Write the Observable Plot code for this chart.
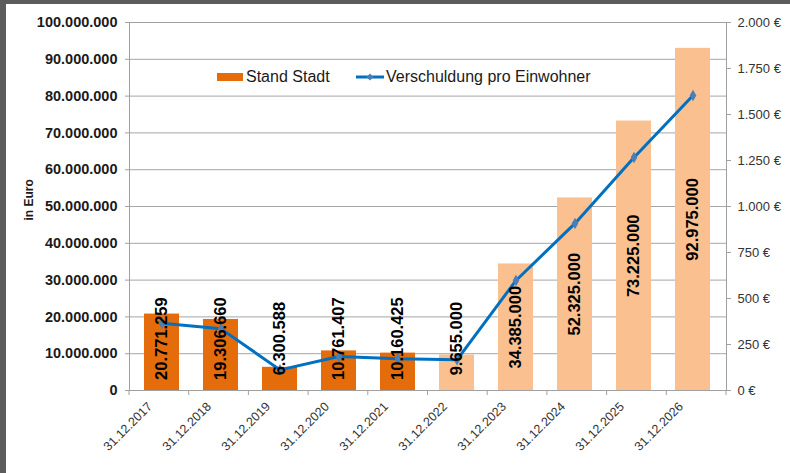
<!DOCTYPE html>
<html>
<head>
<meta charset="utf-8">
<script src="https://cdn.jsdelivr.net/npm/d3@7"></script>
<script src="https://cdn.jsdelivr.net/npm/@observablehq/plot@0.6"></script>
<style>
  html, body { margin: 0; padding: 0; background: #fff; }
  #wrap { position: relative; width: 790px; height: 473px; overflow: hidden; font-family: "Liberation Sans", Arial, sans-serif; }
  #bt { position: absolute; left: 0; top: 0; width: 790px; height: 4px; background: #5c5c5c; }
  #bl { position: absolute; left: 0; top: 0; width: 6px; height: 473px; background: #5c5c5c; }
  .leg { position: absolute; font-size: 16px; color: #1a1a1a; white-space: nowrap; line-height: 1; }
</style>
</head>
<body>
<div id="wrap">
  <div id="chart"></div>
  <div id="bt"></div>
  <div id="bl"></div>
  <div class="leg" style="left:217px;top:69px;display:flex;align-items:center;">
    <span style="display:inline-block;width:26px;height:8px;background:#E46C0A;margin-right:3px;"></span>Stand Stadt
  </div>
  <div class="leg" style="left:356px;top:69px;display:flex;align-items:center;">
    <svg width="28" height="16" style="margin-right:2px;"><line x1="0" x2="28" y1="8" y2="8" stroke="#0070C0" stroke-width="3"/><path d="M14,4.5 L17.5,8 L14,11.5 L10.5,8Z" fill="#4A7EBB"/></svg>Verschuldung pro Einwohner
  </div>
</div>
<script>
const categories = ["31.12.2017","31.12.2018","31.12.2019","31.12.2020","31.12.2021","31.12.2022","31.12.2023","31.12.2024","31.12.2025","31.12.2026"];
const standStadt = [20771259, 19306660, 6300588, 10761407, 10160425, 9655000, 34385000, 52325000, 73225000, 92975000];
const proEinwohner = [366, 335, 112, 185, 172, 167, 598, 908, 1266, 1603];
const status = ["Ist","Ist","Ist","Ist","Ist","Plan","Plan","Plan","Plan","Plan"];
const leftTicks = [0, 10e6, 20e6, 30e6, 40e6, 50e6, 60e6, 70e6, 80e6, 90e6, 100e6];
const rightTicks = [0, 250, 500, 750, 1000, 1250, 1500, 1750, 2000];
const statusColors = {Ist: "#E46C0A", Plan: "#FAC08F"};

const ratio = 100e6 / 2000;
const de = d3.formatLocale({decimal: ",", thousands: ".", grouping: [3], currency: ["", " €"]});
const fmt = de.format(",d");

const rows = categories.map((c, i) => ({date: c, stand: standStadt[i], pro: proEinwohner[i], status: status[i]}));

function boundaryTicks(index, scales, values, dims) {
  const g = d3.create("svg:g");
  const n = categories.length;
  const x0 = dims.marginLeft, x1 = dims.width - dims.marginRight;
  const yb = dims.height - dims.marginBottom;
  for (let i = 0; i <= n; i++) {
    const x = x0 + (x1 - x0) * i / n;
    g.append("line").attr("x1", x).attr("x2", x).attr("y1", yb).attr("y2", yb + 5)
      .attr("stroke", "#a0a0a0").attr("stroke-width", 1);
  }
  return g.node();
}

const chart = Plot.plot({
  width: 790, height: 473,
  marginLeft: 129, marginRight: 64, marginTop: 22, marginBottom: 83,
  style: {fontFamily: "'Liberation Sans', Arial, sans-serif", background: "transparent", color: "#1a1a1a"},
  x: {domain: categories, paddingInner: 0.4, paddingOuter: 0.2},
  y: {domain: [0, 100e6]},
  marks: [
    Plot.gridY(leftTicks, {stroke: "#a6a6a6", strokeOpacity: 1}),
    Plot.barY(rows, {x: "date", y: "stand", fill: d => statusColors[d.status]}),
    Plot.frame({stroke: "#a0a0a0"}),
    Plot.axisY(leftTicks, {anchor: "left", tickSize: 4, tickPadding: 8, tickFormat: fmt, fontSize: 14.5, fontWeight: "bold", stroke: "#a0a0a0", fill: "#1a1a1a", label: null}),
    Plot.axisY(rightTicks.map(v => v * ratio), {anchor: "right", tickSize: 4, tickPadding: 7, tickFormat: d => fmt(d / ratio) + " €", fontSize: 13, stroke: "#a0a0a0", fill: "#333", label: null}),
    Plot.axisX({tickRotate: -45, tickSize: 0, tickPadding: 14, dx: -12, fontSize: 12.5, fill: "#333", label: null}),
    boundaryTicks,
    Plot.text(["in Euro"], {frameAnchor: "left", dx: -100, dy: 14, rotate: -90, fontSize: 12, fontWeight: "bold", fill: "#1a1a1a"}),
    Plot.line(rows, {x: "date", y: d => d.pro * ratio, stroke: "#0070C0", strokeWidth: 3}),
    Plot.dot(rows, {x: "date", y: d => d.pro * ratio, symbol: "diamond", r: 3.5, fill: "#4A7EBB"}),
    Plot.text(rows, {x: "date", y: d => Math.max(d.stand / 2, 14.1e6), text: d => fmt(d.stand), rotate: -90, fontSize: 16.5, fontWeight: "bold", fill: "#000"})
  ]
});
document.getElementById("chart").appendChild(chart);
</script>
</body>
</html>
